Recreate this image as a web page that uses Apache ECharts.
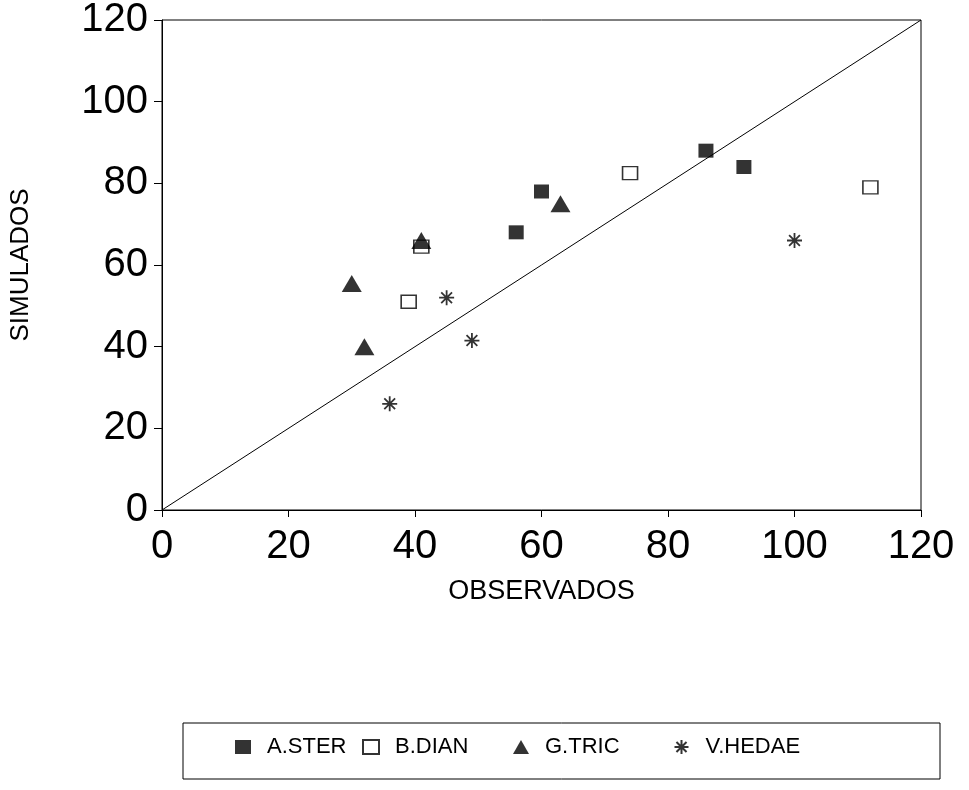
<!DOCTYPE html>
<html>
<head>
<meta charset="UTF-8">
<title>Simulados vs Observados</title>
<script type="text/javascript" src="https://cdn.jsdelivr.net/npm/echarts@6/dist/echarts.min.js"></script>
<style type="text/css">
body {
	margin: 0;
	background-color: #FFFFFF
}
</style>
</head>
<body>
	<div id="main" style="width: 969px; height: 790px"></div>
</body>
<script type="text/javascript">
	var aSter = [ [ 56, 68 ], [ 60, 78 ], [ 86, 88 ], [ 92, 84 ] ];
	var bDian = [ [ 39, 51 ], [ 41, 64.5 ], [ 74, 82.5 ], [ 112, 79 ] ];
	var gTric = [ [ 30, 55.5 ], [ 32, 40 ], [ 41, 66 ], [ 63, 75 ] ];
	var vHedae = [ [ 36, 26 ], [ 45, 52 ], [ 49, 41.5 ], [ 100, 66 ] ];
	var linea11 = [ [ 0, 0 ], [ 120, 120 ] ];
	var seriesNames = [ 'A.STER', 'B.DIAN', 'G.TRIC', 'V.HEDAE' ];

	var star = 'path://M0,-1L0,1M-1,0L1,0M-0.72,-0.72L0.72,0.72M-0.72,0.72L0.72,-0.72';
	var font = 'Liberation Sans';

	function legendAt(name, left) {
		return {
			data : [ name ],
			left : left,
			top : 731,
			itemWidth : 16,
			itemHeight : 14,
			itemGap : 0,
			textStyle : {
				fontFamily : font,
				fontSize : 22,
				color : '#000',
				padding : [ 0, 0, 0, 11 ]
			}
		};
	}

	var myChart = echarts.init(document.getElementById('main'));
	var option = {
		animation : false,
		backgroundColor : '#fff',
		grid : {
			left : 159,
			right : 48,
			top : 19,
			bottom : 280,
			show : true,
			borderColor : '#000',
			borderWidth : 1
		},
		xAxis : {
			type : 'value',
			min : 0,
			max : 120,
			interval : 20,
			name : 'OBSERVADOS',
			nameLocation : 'middle',
			nameGap : 68,
			nameTextStyle : {
				fontFamily : font,
				fontSize : 27,
				color : '#000'
			},
			axisLine : { lineStyle : { color : '#000', width : 1 } },
			axisTick : { show : true, length : 7, lineStyle : { color : '#000' } },
			axisLabel : {
				fontFamily : font,
				fontSize : 40,
				color : '#000',
				margin : 17
			},
			splitLine : { show : false }
		},
		yAxis : {
			type : 'value',
			min : 0,
			max : 120,
			interval : 20,
			name : 'SIMULADOS',
			nameLocation : 'middle',
			nameGap : 128,
			nameTextStyle : {
				fontFamily : font,
				fontSize : 26,
				color : '#000'
			},
			axisLine : { lineStyle : { color : '#000', width : 1 } },
			axisTick : { show : true, length : 8, lineStyle : { color : '#000' } },
			axisLabel : {
				fontFamily : font,
				fontSize : 40,
				color : '#000',
				margin : 14,
				padding : [ 6, 0, 0, 0 ]
			},
			splitLine : { show : false }
		},
		legend : [ legendAt(seriesNames[0], 230), legendAt(seriesNames[1], 357),
				legendAt(seriesNames[2], 508), legendAt(seriesNames[3], 667) ],
		graphic : [ {
			type : 'rect',
			shape : { x : 183, y : 723, width : 757, height : 56 },
			style : { fill : 'none', stroke : '#000', lineWidth : 1 }
		} ],
		series : [ {
			name : 'linea',
			type : 'line',
			data : linea11,
			symbol : 'none',
			lineStyle : { color : '#000', width : 1 },
			silent : true
		}, {
			name : seriesNames[0],
			type : 'scatter',
			data : aSter,
			symbol : 'rect',
			symbolSize : [ 15, 14 ],
			itemStyle : { color : '#000' }
		}, {
			name : seriesNames[1],
			type : 'scatter',
			data : bDian,
			symbol : 'rect',
			symbolSize : [ 15, 13 ],
			itemStyle : { color : '#fff', borderColor : '#000', borderWidth : 1.5 }
		}, {
			name : seriesNames[2],
			type : 'scatter',
			data : gTric,
			symbol : 'triangle',
			symbolSize : [ 20, 17 ],
			itemStyle : { color : '#000' }
		}, {
			name : seriesNames[3],
			type : 'scatter',
			data : vHedae,
			symbol : star,
			symbolSize : 15,
			itemStyle : { color : 'none', borderColor : '#000', borderWidth : 1.8 }
		} ]
	};
	myChart.setOption(option);
</script>
</html>
